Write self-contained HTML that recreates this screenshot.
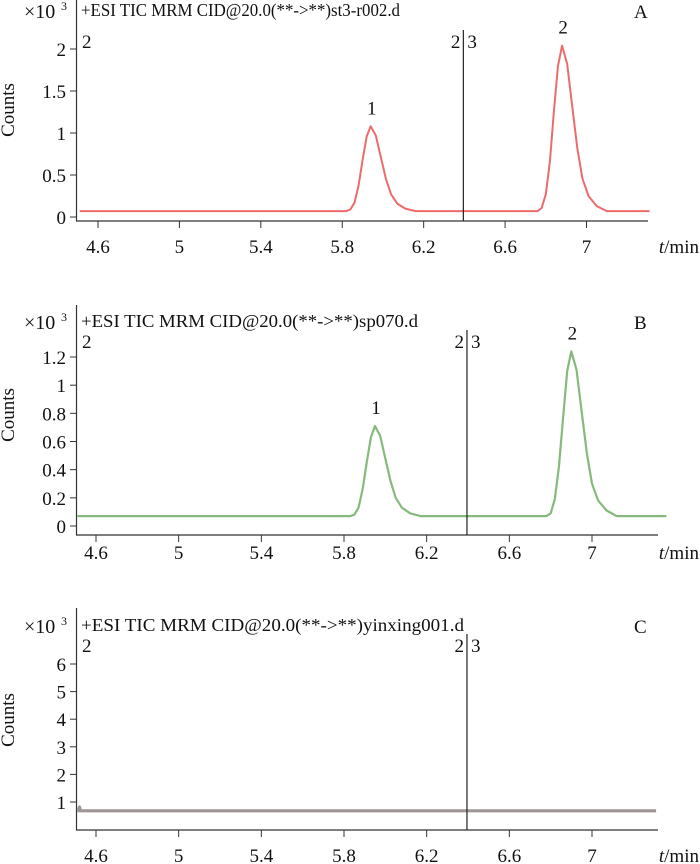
<!DOCTYPE html>
<html><head><meta charset="utf-8"><style>
html,body{margin:0;padding:0;background:#fff}
svg{display:block}
text{font-family:"Liberation Serif","Noto Serif CJK SC",serif;fill:#111}
</style></head><body>
<svg id="chart" width="700" height="864" viewBox="0 0 700 864" xmlns="http://www.w3.org/2000/svg"></svg>
<script>
// Panel A data
const tA = [4.51,5.82,5.84,5.86,5.88,5.90,5.92,5.94,5.965,5.99,6.015,6.04,6.07,6.11,6.16,6.76,6.78,6.80,6.82,6.84,6.86,6.88,6.905,6.93,6.955,6.98,7.01,7.05,7.10,7.31];
const vA = [0.07,0.07,0.09,0.17,0.37,0.68,0.96,1.08,0.97,0.71,0.45,0.27,0.16,0.10,0.07,0.07,0.11,0.27,0.66,1.26,1.80,2.04,1.82,1.31,0.82,0.46,0.25,0.13,0.07,0.07];
// Panel B data
const tB = [4.51,5.83,5.85,5.87,5.89,5.91,5.93,5.95,5.975,6.00,6.025,6.05,6.08,6.12,6.17,6.78,6.80,6.82,6.84,6.86,6.88,6.90,6.925,6.95,6.975,7.00,7.03,7.07,7.12,7.36];
const vB = [0.07,0.07,0.08,0.13,0.26,0.45,0.63,0.71,0.64,0.48,0.32,0.20,0.13,0.09,0.07,0.07,0.09,0.19,0.42,0.77,1.10,1.24,1.11,0.81,0.52,0.30,0.18,0.11,0.07,0.07];
// Panel C data
const tC = [4.51,4.515,4.52,4.525,4.53,4.6,7.31];
const vC = [0.66,0.68,0.82,0.68,0.68,0.68,0.68];
// Tick labels
const xTicks = [4.6,5,5.4,5.8,6.2,6.6,7];
const xTickLabels = ["4.6","5","5.4","5.8","6.2","6.6","7"];
const yTicksA = [0,0.5,1,1.5,2];
const yTickLabelsA = ["0","0.5","1","1.5","2"];
const yTicksB = [0,0.2,0.4,0.6,0.8,1,1.2];
const yTickLabelsB = ["0","0.2","0.4","0.6","0.8","1","1.2"];
const yTicksC = [1,2,3,4,5,6];
const yTickLabelsC = ["1","2","3","4","5","6"];
const peakLabelsA = [{t:5.94,v:1.08,l:"1"},{t:6.88,v:2.04,l:"2"}];
const peakLabelsB = [{t:5.95,v:0.71,l:"1"},{t:6.90,v:1.24,l:"2"}];

const NS="http://www.w3.org/2000/svg";
const svg=document.getElementById('chart');
function mk(tag,attrs,parent,txt){const e=document.createElementNS(NS,tag);for(const k in attrs)e.setAttribute(k,attrs[k]);if(txt!==undefined)e.textContent=txt;(parent||svg).appendChild(e);return e;}

const panels=[
 {id:'a',t:tA,v:vA,color:'#ee6b6b',w:2,top:0,axisY:221,x46:98,x7:586.5,yTicks:yTicksA,yLabels:yTickLabelsA,y0:217,yTop:49,yTopV:2,xEnd:648,
  title:"+ESI TIC MRM CID@20.0(**->**)st3-r002.d",titleEnd:400,titleY:16,letter:"A",markY:48,peaks:peakLabelsA,labY:253,countsY:110},
 {id:'b',t:tB,v:vB,color:'#86ba7c',w:2.2,top:305,axisY:535,x46:96,x7:592,yTicks:yTicksB,yLabels:yTickLabelsB,y0:526,yTop:357,yTopV:1.2,xEnd:658,
  title:"+ESI TIC MRM CID@20.0(**->**)sp070.d",titleEnd:418,titleY:327,letter:"B",markY:348,peaks:peakLabelsB,labY:559,countsY:415},
 {id:'c',t:tC,v:vC,color:'#9e9595',w:3.2,top:608,axisY:830,x46:96,x7:592,yTicks:yTicksC,yLabels:yTickLabelsC,y0:829.6,yTop:664,yTopV:6,xEnd:658,
  title:"+ESI TIC MRM CID@20.0(**->**)yinxing001.d",titleEnd:464,titleY:631,letter:"C",markY:652,peaks:[],labY:862,countsY:720}
];

panels.forEach(p=>{
 const g=mk('g',{});
 
 
 const X=t=>p.x46+(t-4.6)*(p.x7-p.x46)/2.4;
 const Y=v=>p.y0-(v)*(p.y0-p.yTop)/p.yTopV;
 const ya=mk('line',{x1:76.5,y1:p.top,x2:76.5,y2:p.axisY,stroke:'#333','stroke-width':1.2},g);
 
 
 const xa=mk('line',{x1:76,y1:p.axisY,x2:p.xEnd,y2:p.axisY,stroke:'#333','stroke-width':1.2},g);
 
 
 xTicks.forEach((t,i)=>{
  mk('line',{x1:X(t),y1:p.axisY,x2:X(t),y2:p.axisY+7,stroke:'#333','stroke-width':1},g);
  const tl=mk('text',{x:X(t),y:p.labY,'text-anchor':'middle','font-size':19},g,xTickLabels[i]);
  
  
 });
 p.yTicks.forEach((v,i)=>{
  mk('line',{x1:70,y1:Y(v),x2:76,y2:Y(v),stroke:'#333','stroke-width':1},g);
  const tl=mk('text',{x:66,y:Y(v)+7,'text-anchor':'end','font-size':19},g,p.yLabels[i]);
  
  
 });
 const d=p.t.map((t,i)=>(i?'L':'M')+X(t).toFixed(1)+','+Y(p.v[i]).toFixed(1)).join(' ');
 const path=mk('path',{d:d,fill:'none',stroke:p.color,'stroke-width':p.w,'stroke-linejoin':'round'},g);
 
 
 const vl=mk('line',{x1:X(6.395),y1:p.markY-18,x2:X(6.395),y2:p.axisY,stroke:'#222','stroke-width':1.2},g);
 
 
 mk('text',{x:X(6.395)-3,y:p.markY,'text-anchor':'end','font-size':19},g,"2");
 mk('text',{x:X(6.395)+4,y:p.markY,'font-size':19},g,"3");
 mk('text',{x:82,y:p.markY,'font-size':19},g,"2");
 p.peaks.forEach(pk=>{
  const pl=mk('text',{x:X(pk.t)+1,y:Y(pk.v)-12,'text-anchor':'middle','font-size':19},g,pk.l);
  
  
 });
 const ti=mk('text',{x:81,y:p.titleY,'font-size':18,textLength:p.titleEnd-81,lengthAdjust:'spacingAndGlyphs'},g,p.title);
 
 
 const sc=mk('text',{x:24,y:p.titleY+2,'font-size':20},g,"×10");
 
 
 mk('text',{x:61,y:p.titleY-6,'font-size':12},g,"3");
 const lt=mk('text',{x:634,y:p.titleY+2,'font-size':19},g,p.letter);
 
 
 const ct=mk('text',{x:14,y:p.countsY,'text-anchor':'middle','font-size':19,transform:'rotate(-90 14 '+p.countsY+')'},g,"Counts");
 
 
 const xt=mk('text',{x:699,y:p.labY,'text-anchor':'end','font-size':19},g);
 
 
 mk('tspan',{'font-style':'italic'},xt,"t");
 mk('tspan',{},xt,"/min");
});
</script>
</body></html>
